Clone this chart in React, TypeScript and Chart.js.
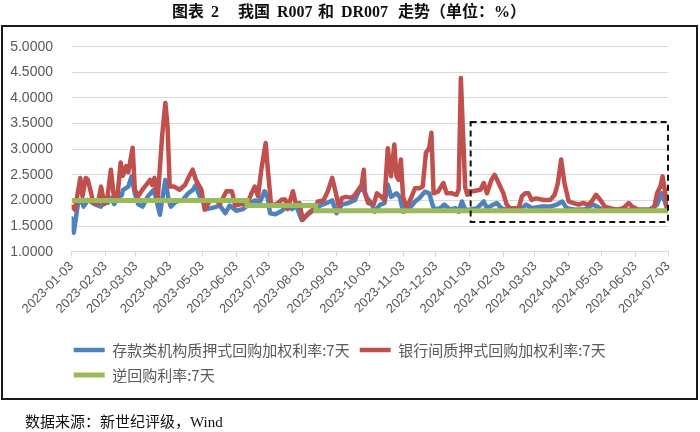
import React, { useEffect, useRef } from 'react';
import { Chart, registerables } from 'chart.js';

Chart.register(...registerables);

// ---------- data ----------
const seriesNames = ['存款类机构质押式回购加权利率:7天', '银行间质押式回购加权利率:7天', '逆回购利率:7天'];

const tickDates = [
  '2023-01-03', '2023-02-03', '2023-03-03', '2023-04-03', '2023-05-03', '2023-06-03', '2023-07-03',
  '2023-08-03', '2023-09-03', '2023-10-03', '2023-11-03', '2023-12-03', '2024-01-03', '2024-02-03',
  '2024-03-03', '2024-04-03', '2024-05-03', '2024-06-03', '2024-07-03',
];

const yTickValues = [1, 1.5, 2, 2.5, 3, 3.5, 4, 4.5, 5];

// DR007 (存款类机构质押式回购加权利率:7天)
const dr007Dates = [
  '2023-01-03', '2023-01-05', '2023-01-09', '2023-01-12', '2023-01-14', '2023-01-18', '2023-01-24', '2023-01-30',
  '2023-02-02', '2023-02-05', '2023-02-08', '2023-02-11', '2023-02-15', '2023-02-18', '2023-02-19', '2023-02-24',
  '2023-02-27', '2023-03-02', '2023-03-05', '2023-03-09', '2023-03-14', '2023-03-19', '2023-03-21', '2023-03-25',
  '2023-03-28', '2023-03-30', '2023-04-02', '2023-04-04', '2023-04-09', '2023-04-15', '2023-04-20', '2023-04-24',
  '2023-04-27', '2023-04-30', '2023-05-05', '2023-05-07', '2023-05-13', '2023-05-19', '2023-05-24', '2023-05-28',
  '2023-06-03', '2023-06-09', '2023-06-16', '2023-06-20', '2023-06-25', '2023-06-29', '2023-07-02', '2023-07-04',
  '2023-07-09', '2023-07-15', '2023-07-19', '2023-07-24', '2023-07-28', '2023-08-02', '2023-08-08', '2023-08-14',
  '2023-08-19', '2023-08-25', '2023-08-30', '2023-09-03', '2023-09-08', '2023-09-14', '2023-09-20', '2023-09-24',
  '2023-09-28', '2023-10-01', '2023-10-05', '2023-10-08', '2023-10-13', '2023-10-17', '2023-10-20', '2023-10-23',
  '2023-10-28', '2023-10-31', '2023-11-03', '2023-11-08', '2023-11-14', '2023-11-18', '2023-11-23', '2023-11-27',
  '2023-11-30', '2023-12-02', '2023-12-07', '2023-12-11', '2023-12-16', '2023-12-21', '2023-12-24', '2023-12-27',
  '2023-12-30', '2024-01-03', '2024-01-10', '2024-01-16', '2024-01-19', '2024-01-25', '2024-01-28', '2024-02-01',
  '2024-02-06', '2024-02-18', '2024-02-24', '2024-02-29', '2024-03-08', '2024-03-17', '2024-03-23', '2024-03-28',
  '2024-04-01', '2024-04-09', '2024-04-18', '2024-04-25', '2024-04-29', '2024-05-04', '2024-05-20', '2024-06-07',
  '2024-06-16', '2024-06-23', '2024-06-27', '2024-06-29', '2024-07-02', '2024-07-03',
];
const dr007Values = [
  1.65, 1.37, 1.96, 2.01, 1.88, 2.01, 1.93, 1.88,
  1.98, 1.95, 2.05, 1.93, 2.08, 2.10, 2.20, 2.27,
  2.47, 2.14, 1.93, 1.88, 2.08, 2.20, 2.08, 1.72,
  2.14, 2.40, 2.01, 1.88, 1.98, 2.01, 2.14, 2.20,
  2.30, 2.10, 1.93, 1.83, 1.86, 1.90, 1.75, 1.90,
  1.80, 1.83, 1.95, 2.00, 1.98, 2.18, 2.04, 1.75,
  1.73, 1.80, 1.90, 1.83, 1.90, 1.62, 1.73, 1.83,
  1.90, 1.95, 2.00, 1.75, 1.92, 1.95, 2.01, 2.21,
  2.21, 2.05, 1.95, 1.78, 1.92, 1.95, 2.31, 2.07,
  2.14, 2.07, 1.78, 1.82, 1.98, 2.05, 2.17, 2.14,
  1.92, 1.82, 1.85, 1.92, 1.82, 1.85, 1.78, 1.98,
  1.82, 1.82, 1.85, 1.98, 1.85, 1.92, 1.95, 1.85,
  1.82, 1.82, 1.92, 1.85, 1.88, 1.88, 1.92, 1.98,
  1.85, 1.82, 1.83, 1.92, 1.88, 1.82, 1.82, 1.82,
  1.82, 1.92, 2.14, 2.04, 1.85, 1.82,
];

// R007 (银行间质押式回购加权利率:7天)
const r007Dates = [
  '2023-01-03', '2023-01-06', '2023-01-11', '2023-01-13', '2023-01-16', '2023-01-18', '2023-01-23', '2023-01-27',
  '2023-01-30', '2023-02-02', '2023-02-05', '2023-02-08', '2023-02-11', '2023-02-14', '2023-02-17', '2023-02-19',
  '2023-02-22', '2023-02-24', '2023-02-28', '2023-03-02', '2023-03-05', '2023-03-09', '2023-03-16', '2023-03-18',
  '2023-03-20', '2023-03-23', '2023-03-27', '2023-03-30', '2023-04-01', '2023-04-03', '2023-04-07', '2023-04-12',
  '2023-04-17', '2023-04-21', '2023-04-24', '2023-04-27', '2023-05-02', '2023-05-05', '2023-05-10', '2023-05-16',
  '2023-05-19', '2023-05-25', '2023-05-30', '2023-06-02', '2023-06-08', '2023-06-13', '2023-06-17', '2023-06-20',
  '2023-06-23', '2023-06-26', '2023-06-30', '2023-07-02', '2023-07-05', '2023-07-10', '2023-07-15', '2023-07-18',
  '2023-07-20', '2023-07-25', '2023-07-28', '2023-07-31', '2023-08-03', '2023-08-08', '2023-08-13', '2023-08-17',
  '2023-08-22', '2023-08-26', '2023-08-30', '2023-09-02', '2023-09-05', '2023-09-08', '2023-09-12', '2023-09-17',
  '2023-09-20', '2023-09-23', '2023-09-26', '2023-09-28', '2023-09-29', '2023-10-02', '2023-10-07', '2023-10-10',
  '2023-10-14', '2023-10-17', '2023-10-20', '2023-10-23', '2023-10-26', '2023-10-28', '2023-10-30', '2023-11-01',
  '2023-11-03', '2023-11-06', '2023-11-09', '2023-11-14', '2023-11-18', '2023-11-21', '2023-11-24', '2023-11-27',
  '2023-11-29', '2023-12-01', '2023-12-05', '2023-12-10', '2023-12-13', '2023-12-18', '2023-12-22', '2023-12-24',
  '2023-12-26', '2023-12-28', '2023-12-30', '2024-01-01', '2024-01-02', '2024-01-06', '2024-01-13', '2024-01-16',
  '2024-01-19', '2024-01-23', '2024-01-26', '2024-01-29', '2024-02-03', '2024-02-06', '2024-02-09', '2024-02-17',
  '2024-02-20', '2024-02-23', '2024-02-26', '2024-02-29', '2024-03-04', '2024-03-11', '2024-03-17', '2024-03-21',
  '2024-03-24', '2024-03-27', '2024-03-30', '2024-04-03', '2024-04-07', '2024-04-12', '2024-04-16', '2024-04-21',
  '2024-04-24', '2024-04-28', '2024-05-02', '2024-05-06', '2024-05-11', '2024-05-17', '2024-05-23', '2024-05-28',
  '2024-05-31', '2024-06-06', '2024-06-13', '2024-06-20', '2024-06-23', '2024-06-26', '2024-06-28', '2024-06-30',
  '2024-07-02', '2024-07-03',
];
const r007Values = [
  1.88, 1.82, 2.44, 2.08, 2.44, 2.40, 1.95, 1.93,
  2.27, 1.93, 2.08, 2.60, 2.03, 2.08, 2.74, 2.48,
  2.67, 2.55, 3.03, 2.21, 2.08, 2.21, 2.40, 2.30,
  2.44, 2.03, 3.25, 3.90, 3.45, 2.27, 2.27, 2.21,
  2.30, 2.48, 2.60, 2.40, 2.21, 1.82, 2.00, 2.00,
  1.93, 2.18, 2.18, 1.90, 1.93, 1.93, 2.14, 2.27,
  2.08, 2.60, 3.12, 2.60, 1.90, 1.93, 2.02, 2.02,
  1.83, 2.18, 1.90, 1.95, 1.62, 1.75, 1.83, 1.98,
  2.00, 2.18, 2.44, 2.18, 1.88, 2.05, 2.07, 2.05,
  2.11, 2.21, 2.30, 2.60, 2.14, 1.95, 1.92, 2.14,
  2.07, 2.01, 3.02, 2.47, 3.09, 2.47, 2.40, 2.80,
  2.07, 1.88, 1.98, 2.24, 2.24, 2.27, 2.93, 3.02,
  3.32, 2.14, 2.17, 2.34, 2.14, 2.14, 2.11, 2.21,
  4.39, 3.30, 2.25, 2.11, 2.18, 2.18, 2.21, 2.34,
  2.14, 2.40, 2.50, 2.37, 2.14, 1.92, 1.85, 1.85,
  2.08, 2.14, 2.14, 2.01, 2.04, 2.01, 2.01, 2.11,
  2.34, 2.80, 2.34, 1.98, 1.95, 1.92, 1.95, 1.92,
  1.98, 2.11, 2.01, 1.88, 1.85, 1.82, 1.85, 1.95,
  1.88, 1.82, 1.82, 1.82, 2.14, 2.27, 2.47, 2.21,
  1.88, 1.82,
];

// 逆回购利率:7天
const repoDates = ['2023-01-03', '2023-06-13', '2023-08-15', '2024-07-03'];
const repoValues = [2.0, 1.9, 1.8, 1.8];

// dashed highlight box
const boxDates = ['2024-01-04', '2024-07-03'];
const boxValues = [1.58, 3.53];

const seriesColors = ['#4F81BD', '#C0504D', '#9BBB59'];

// ---------- helpers ----------
const BASE = Date.UTC(2023, 0, 3);
const dayOf = (s: string) => {
  const [y, m, d] = s.split('-').map(Number);
  return (Date.UTC(y, m - 1, d) - BASE) / 86400000;
};
const toPoints = (dates: string[], values: number[]) => dates.map((d, i) => ({ x: dayOf(d), y: values[i] }));

const boxPlugin = {
  id: 'dashedBox',
  afterDatasetsDraw(chart: any) {
    const xs = chart.scales.x;
    const ys = chart.scales.y;
    const x1 = xs.getPixelForValue(dayOf(boxDates[0]));
    const x2 = xs.getPixelForValue(dayOf(boxDates[1]));
    const y1 = ys.getPixelForValue(boxValues[1]);
    const y2 = ys.getPixelForValue(boxValues[0]);
    const ctx = chart.ctx;
    ctx.save();
    ctx.strokeStyle = '#111';
    ctx.lineWidth = 2;
    ctx.setLineDash([6, 4]);
    ctx.strokeRect(x1, y1, x2 - x1, y2 - y1);
    ctx.restore();
  },
};

// shift the legend so that its rows start under the plot, as in the reference
const legendShiftPlugin = {
  id: 'legendShift',
  afterLayout(chart: any) {
    if (chart.legend) {
      chart.legend.left = 63.7;
    }
  },
};

export default function App() {
  const ref = useRef<HTMLCanvasElement>(null);

  useEffect(() => {
    if (!ref.current) return;
    const chart = new Chart(ref.current, {
      type: 'line',
      data: {
        datasets: [
          {
            label: seriesNames[0],
            data: toPoints(dr007Dates, dr007Values),
            borderColor: seriesColors[0],
            backgroundColor: seriesColors[0],
            borderWidth: 4.5,
            pointRadius: 0,
            borderJoinStyle: 'round',
            borderCapStyle: 'round',
            order: 2,
          },
          {
            label: seriesNames[1],
            data: toPoints(r007Dates, r007Values),
            borderColor: seriesColors[1],
            backgroundColor: seriesColors[1],
            borderWidth: 4.5,
            pointRadius: 0,
            borderJoinStyle: 'round',
            borderCapStyle: 'round',
            order: 1,
          },
          {
            label: seriesNames[2],
            data: toPoints(repoDates, repoValues),
            borderColor: seriesColors[2],
            backgroundColor: seriesColors[2],
            borderWidth: 5,
            pointRadius: 0,
            stepped: true,
            borderCapStyle: 'butt',
            order: 0,
          },
        ],
      },
      options: {
        animation: false,
        responsive: false,
        devicePixelRatio: 1,
        layout: { padding: { left: 0, right: 32, top: 46.7, bottom: 39.5 } },
        plugins: {
          tooltip: { enabled: false },
          legend: {
            position: 'bottom',
            align: 'start',
            labels: {
              usePointStyle: true,
              pointStyle: 'line',
              pointStyleWidth: 31,
              padding: 10,
              color: '#595959',
              font: { size: 15, family: '"Noto Sans CJK SC", sans-serif' },
              sort: (a: any, b: any) => a.datasetIndex - b.datasetIndex,
            },
          },
        },
        scales: {
          x: {
            type: 'linear',
            min: 0,
            max: dayOf(tickDates[tickDates.length - 1]),
            afterBuildTicks: (s: any) => {
              s.ticks = tickDates.map((d) => ({ value: dayOf(d) }));
            },
            afterFit: (s: any) => {
              s.height = 80.8;
            },
            grid: { drawOnChartArea: false, drawTicks: true, tickLength: 5, color: '#d9d9d9' },
            border: { display: true, color: '#d9d9d9', width: 1 },
            ticks: {
              autoSkip: false,
              minRotation: 45,
              maxRotation: 45,
              padding: 2,
              color: '#595959',
              font: { size: 13, family: '"Liberation Sans", Arial, sans-serif' },
              callback: (v: any) => {
                const i = tickDates.findIndex((d) => dayOf(d) === v);
                return i >= 0 ? tickDates[i] : '';
              },
            },
          },
          y: {
            min: 1,
            max: 5,
            afterBuildTicks: (s: any) => {
              s.ticks = yTickValues.map((v) => ({ value: v }));
            },
            afterFit: (s: any) => {
              s.width = 71.6;
            },
            grid: { color: '#d9d9d9', drawTicks: false },
            border: { display: false },
            ticks: {
              padding: 18.6,
              color: '#595959',
              font: { size: 14, family: '"Liberation Sans", Arial, sans-serif' },
              callback: (v: any) => Number(v).toFixed(4),
            },
          },
        },
      },
      plugins: [boxPlugin, legendShiftPlugin],
    } as any);
    return () => chart.destroy();
  }, []);

  const titleParts: [string, number][] = [
    ['图表', 172], ['2', 211], ['我国', 238], ['R007', 277], ['和', 318], ['DR007', 341], ['走势（单位：%）', 398],
  ];

  return (
    <div style={{ position: 'fixed', left: 0, top: 0, width: 700, height: 432, background: '#fff', overflow: 'hidden' }}>
      <canvas ref={ref} width={700} height={432} style={{ position: 'absolute', left: 0, top: 0, width: 700, height: 432 }} />
      {titleParts.map(([t, x]) => (
        <span
          key={t}
          style={{
            position: 'absolute', left: x, top: 4, lineHeight: '16px', fontSize: 16, fontWeight: 700,
            fontFamily: '"Liberation Serif", "Noto Sans CJK SC", serif', color: '#111', whiteSpace: 'pre',
          }}
        >
          {t}
        </span>
      ))}
      <div style={{ position: 'absolute', left: 1, top: 25, width: 697, height: 375, border: '2px solid #1a1a1a', boxSizing: 'border-box', pointerEvents: 'none' }} />
      <div
        style={{
          position: 'absolute', left: 25, top: 414, lineHeight: '16px', fontSize: 15,
          fontFamily: '"Liberation Serif", "Noto Sans CJK SC", serif', color: '#111', whiteSpace: 'pre',
        }}
      >
        数据来源：新世纪评级，Wind
      </div>
    </div>
  );
}
